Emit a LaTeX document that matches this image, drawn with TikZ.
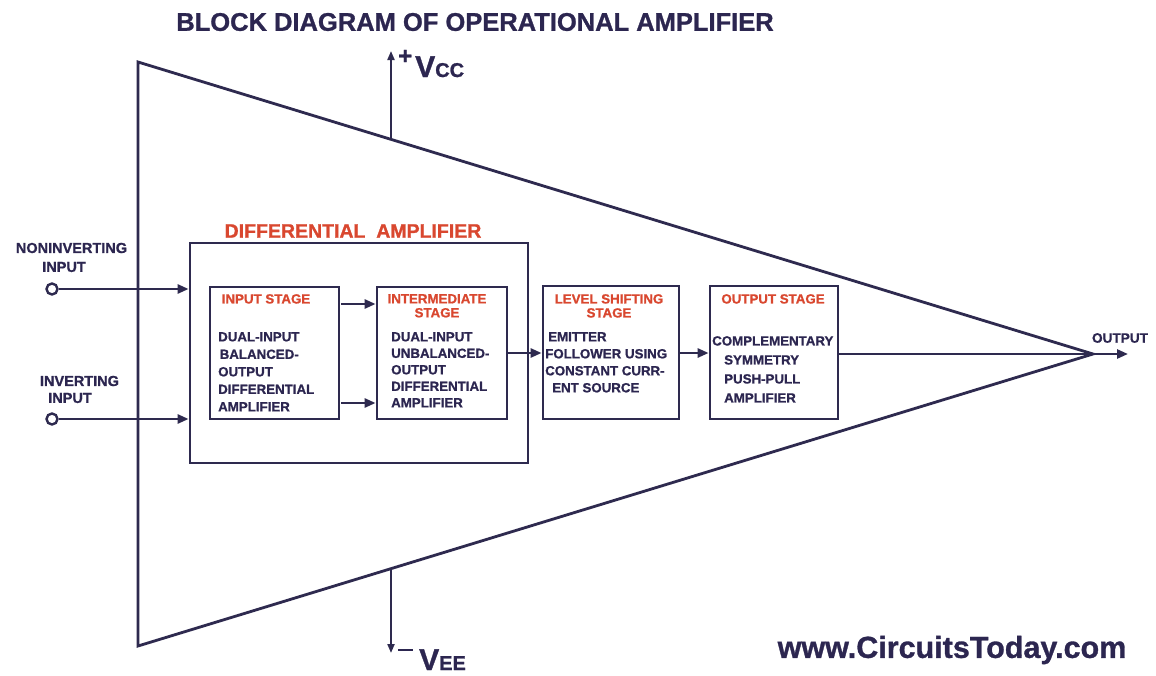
\documentclass[tikz,border=0pt]{standalone}
\usepackage{fontspec}
\setmainfont{Liberation Sans}[BoldFeatures={FakeBold=1}]
\usetikzlibrary{arrows.meta,calc}
\definecolor{ink}{HTML}{2C2650}
\definecolor{hdr}{HTML}{D9472F}
\definecolor{lin}{HTML}{2E2A4F}
\newcommand\myfs[2]{\fontsize{#1}{#2}\selectfont}
\tikzset{
  stagebox/.style={draw=lin, line width=2.8pt, inner sep=0pt},
  arr/.style={draw=lin, line width=2.6pt, -{Triangle[length=11pt,width=9pt]}},
  wire/.style={draw=lin, line width=2.8pt},
  body/.style={text=ink, font=\bfseries\myfs{13.3}{17.5}, inner sep=0pt, align=left},
  head/.style={text=hdr, font=\bfseries\myfs{13.3}{14}, inner sep=0pt, align=center},
  lbl/.style={text=ink, font=\bfseries\myfs{14.5}{16}, inner sep=0pt},
  term/.style={circle, draw=lin, line width=2.4pt, minimum size=11pt, inner sep=0pt, fill=white}
}
\begin{document}
\begin{tikzpicture}[x=1pt,y=-1pt]
\useasboundingbox (0,0) rectangle (1156,675);
\fill[white] (0,0) rectangle (1156,675);

% title
\node[text=ink, font=\bfseries\myfs{25.5}{25.5}, inner sep=0pt] (title) at (475,22) {BLOCK DIAGRAM OF OPERATIONAL AMPLIFIER};

% triangle
\coordinate (tl) at (138,62);
\coordinate (bl) at (138,646);
\coordinate (apex) at (1093,354);
\draw[wire, line join=miter] (tl) -- (apex) -- (bl) -- cycle;

% supply lines
\coordinate (vccb) at (391,139.4);
\coordinate (vcct) at (391,51);
\coordinate (veet) at (391,568.6);
\coordinate (veeb) at (391,653);
\draw[arr, line width=2pt, -{Triangle[length=9pt,width=7pt]}] (vccb) -- (vcct);
\draw[arr, line width=2pt, -{Triangle[length=9pt,width=7pt]}] (veet) -- (veeb);
\node[text=ink, font=\bfseries, inner sep=0pt, anchor=base west] (vcc) at (398,77)
  {\raisebox{13pt}{\myfs{24}{24}+}\hspace{3pt}\myfs{30}{30}V\myfs{20}{20}CC};
\node[text=ink, font=\bfseries, inner sep=0pt, anchor=base west] (vee) at (398,670)
  {\raisebox{19pt}{\rule{15pt}{2.4pt}}\hspace{6pt}\myfs{30}{30}V\myfs{20}{20}EE};

% differential amplifier box
\node[stagebox, minimum width=338pt, minimum height=220pt] (diff) at (359,353) {};
\node[text=hdr, font=\bfseries\myfs{19.5}{19.5}, inner sep=0pt] (difft) at (353,231) {DIFFERENTIAL\ \ AMPLIFIER};

% stage boxes
\node[stagebox, minimum width=129pt, minimum height=132pt] (inp) at (274.5,353) {};
\node[stagebox, minimum width=130pt, minimum height=132pt] (inter) at (442,353) {};
\node[stagebox, minimum width=136pt, minimum height=133pt] (lvl) at (611,352.5) {};
\node[stagebox, minimum width=128pt, minimum height=133pt] (outs) at (774,352.5) {};

% headers
\node[head, anchor=north] (inph) at (266,294) {INPUT STAGE};
\node[head, anchor=north] (interh) at (437,294) {INTERMEDIATE\\STAGE};
\node[head, anchor=north] (lvlh) at (609,294) {LEVEL SHIFTING\\STAGE};
\node[head, anchor=north] (outsh) at (773,294) {OUTPUT STAGE};

% bodies
\node[body, anchor=north west] (inpb) at (218,332)
  {DUAL-INPUT\\\hspace{1.5pt}BALANCED-\\OUTPUT\\DIFFERENTIAL\\AMPLIFIER};
\node[body, anchor=north west, font=\bfseries\myfs{13.3}{16.5}] (interb) at (391,332)
  {DUAL-INPUT\\UNBALANCED-\\OUTPUT\\DIFFERENTIAL\\AMPLIFIER};
\node[body, anchor=north west, font=\bfseries\myfs{13.3}{17}] (lvlb) at (545,332)
  {\hspace{3pt}EMITTER\\FOLLOWER USING\\CONSTANT CURR-\\\hspace{7pt}ENT SOURCE};
\node[body, anchor=north west, font=\bfseries\myfs{13.3}{19}] (outsb) at (712,336)
  {COMPLEMENTARY\\\hspace{12pt}SYMMETRY\\\hspace{12pt}PUSH-PULL\\\hspace{12pt}AMPLIFIER};

% inputs
\node[term] (ni) at (52,289) {};
\node[term] (inv) at (52,419) {};
\node[lbl] (nit1) at (71.5,248) {NONINVERTING};
\node[lbl] (nit2) at (64,267) {INPUT};
\node[lbl] (invt1) at (79.5,381) {INVERTING};
\node[lbl] (invt2) at (70,398) {INPUT};
\draw[arr] (ni) -- (diff.west |- ni);
\draw[arr] (inv) -- (diff.west |- inv);

% internal connectors
\coordinate (a1) at (341,304);
\coordinate (a2) at (341,403);
\draw[arr] (a1) -- (inter.west |- a1);
\draw[arr] (a2) -- (inter.west |- a2);
\draw[arr] (inter.east) -- (lvl.west |- inter.east);
\draw[arr] (lvl.east |- inter.east) -- (outs.west |- inter.east);
\draw[wire] (outs.east |- apex) -- (apex);

% output
\coordinate (outp) at (1128,354);
\draw[arr] (apex) -- (outp);
\node[lbl, font=\bfseries\myfs{13.6}{14}] (outt) at (1120,338) {OUTPUT};

% website
\node[text=ink, font=\bfseries\myfs{30.5}{30.5}, inner sep=0pt] (web) at (952,650) {www.CircuitsToday.com};
\end{tikzpicture}
\end{document}
